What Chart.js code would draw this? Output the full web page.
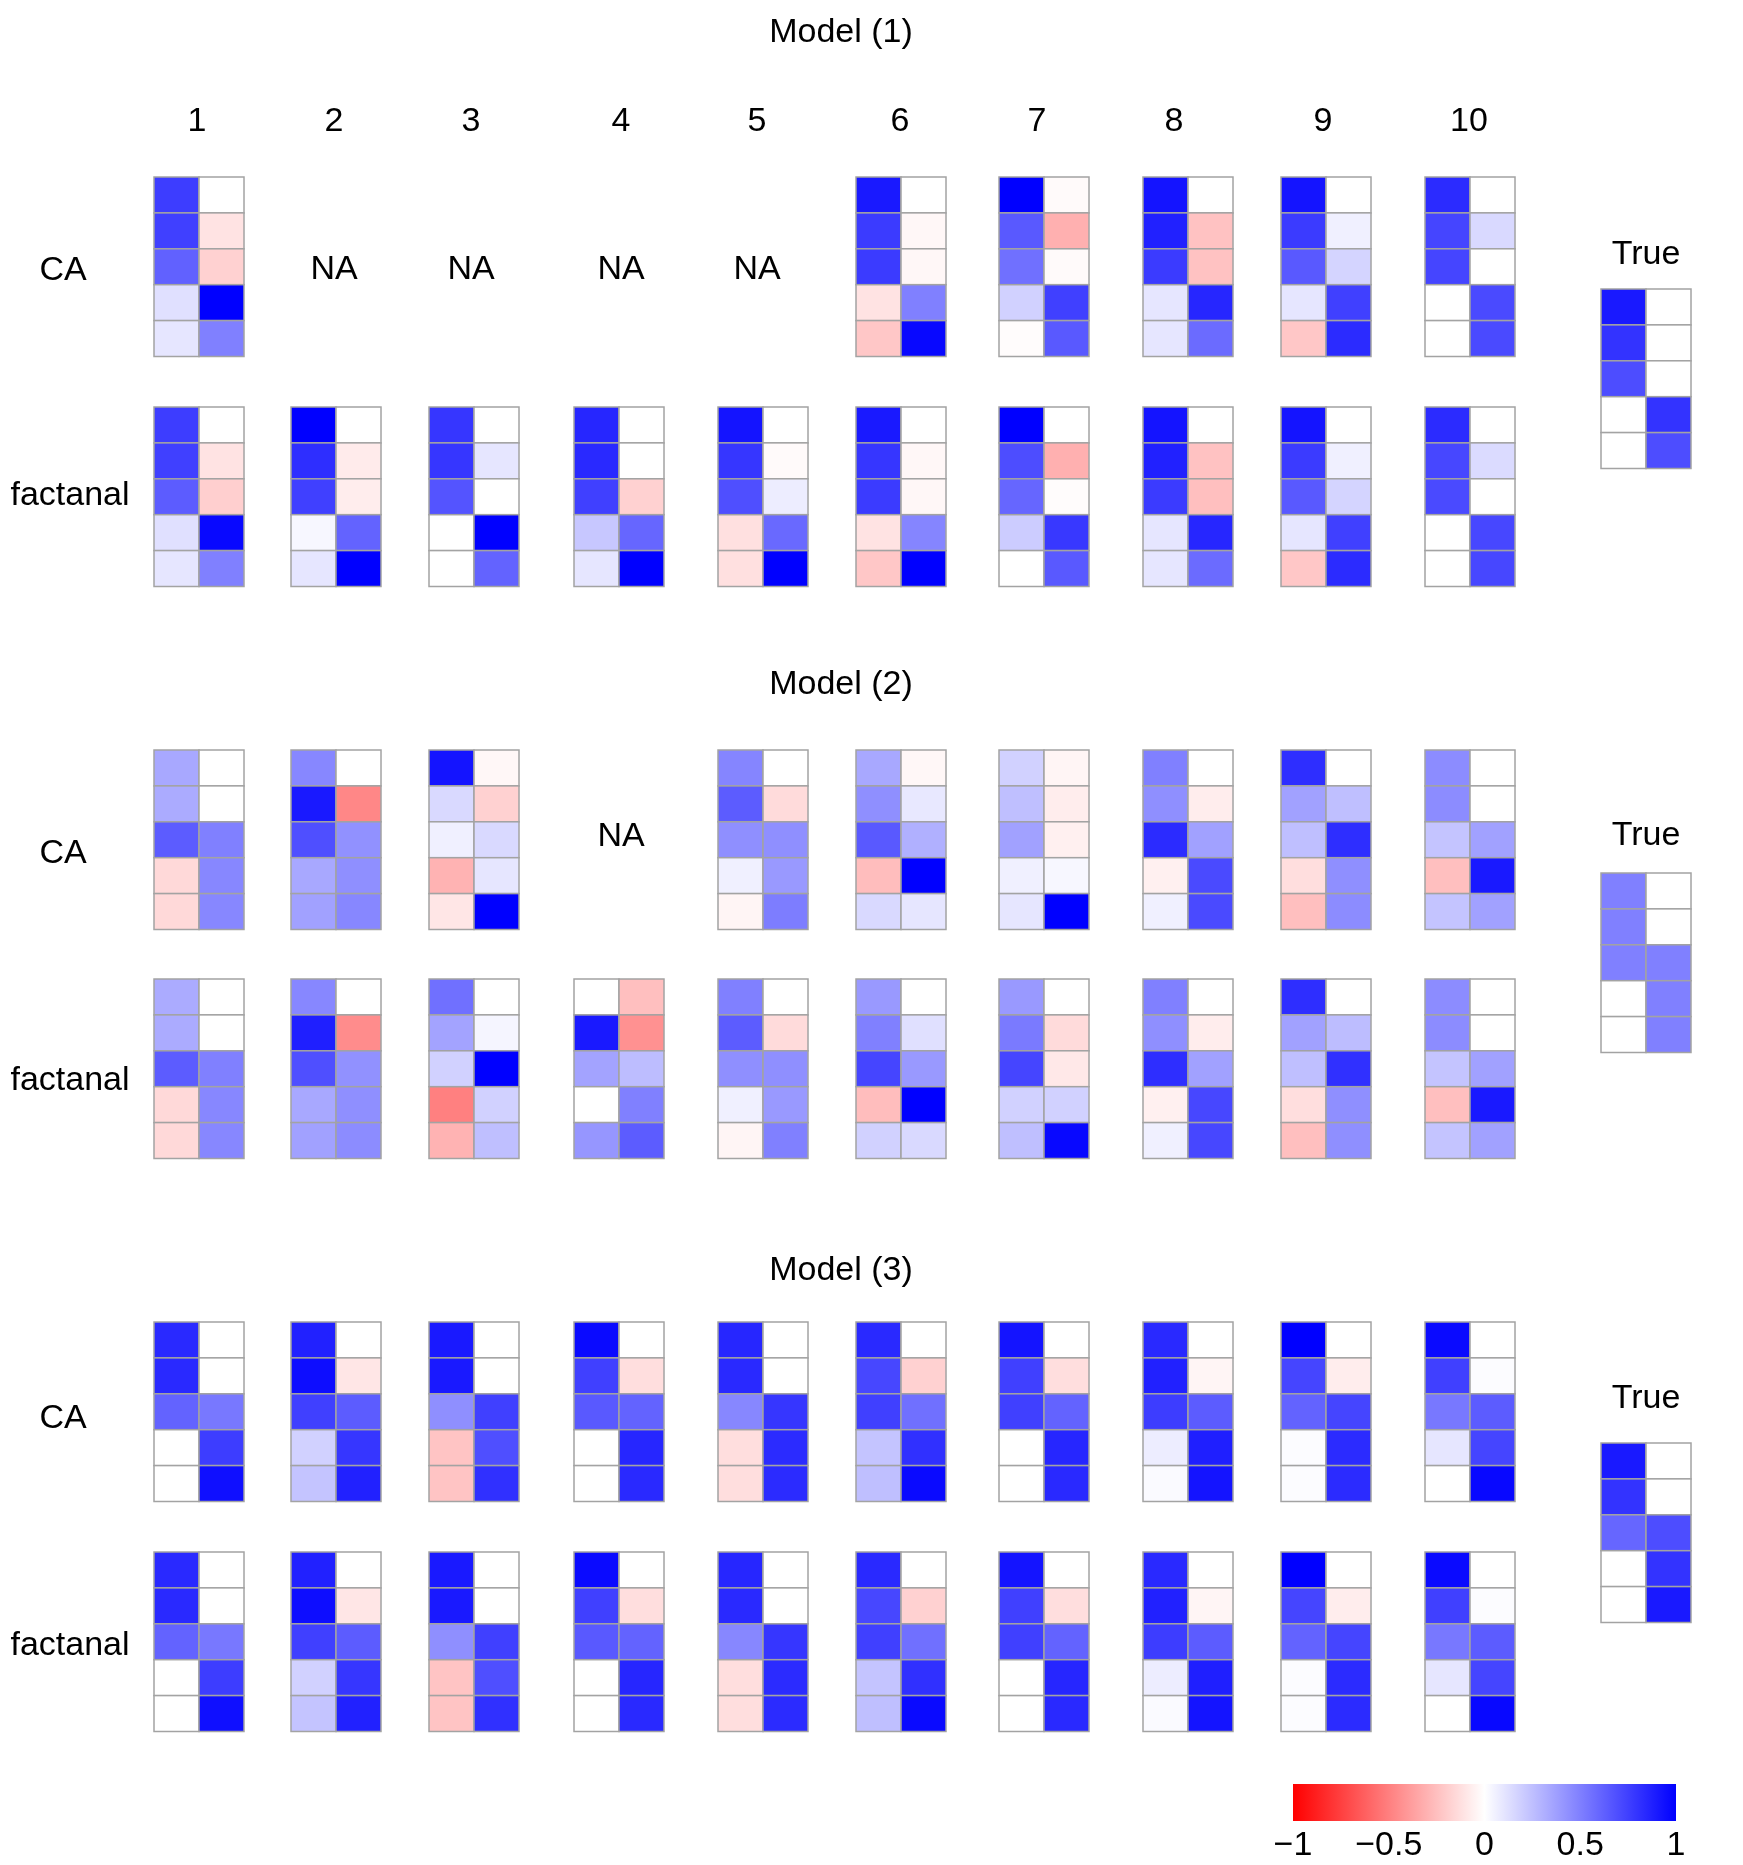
<!DOCTYPE html>
<html>
<head>
<meta charset="utf-8">
<script src="https://cdn.jsdelivr.net/npm/chart.js@4.4.1/dist/chart.umd.min.js"></script>
<style>
  html, body { margin: 0; padding: 0; background: #fff; }
  #wrap { width: 1743px; height: 1865px; }
</style>
</head>
<body>
<div id="wrap"><canvas id="chart" width="1743" height="1865"></canvas></div>
<script>
const models = ["Model (1)", "Model (2)", "Model (3)"]
const methods = ["CA", "factanal"]
const replicates = ["1", "2", "3", "4", "5", "6", "7", "8", "9", "10"]
const colorTicks = [-1, -0.5, 0, 0.5, 1]
const colorTickLabels = ["\u22121", "\u22120.5", "0", "0.5", "1"]

// loadings: 5 variables x 2 factors per replicate, null = NA
const m1CA = [
  [[0.76, 0], [0.75, -0.11], [0.62, -0.18], [0.12, 1.0], [0.1, 0.5]],
  null, null, null, null,
  [[0.9, 0], [0.77, -0.03], [0.77, -0.03], [-0.11, 0.5], [-0.22, 0.97]],
  [[1.0, -0.02], [0.65, -0.31], [0.56, -0.02], [0.18, 0.75], [-0.01, 0.65]],
  [[0.92, 0], [0.87, -0.24], [0.77, -0.24], [0.1, 0.85], [0.1, 0.58]],
  [[0.92, 0], [0.77, 0.06], [0.65, 0.17], [0.1, 0.75], [-0.22, 0.83]],
  [[0.83, 0], [0.73, 0.15], [0.73, 0], [0, 0.71], [0, 0.71]]
]
const m1Fac = [
  [[0.76, 0], [0.75, -0.11], [0.64, -0.19], [0.12, 0.97], [0.1, 0.5]],
  [[1.0, 0], [0.82, -0.08], [0.75, -0.07], [0.03, 0.61], [0.1, 1.0]],
  [[0.79, 0], [0.79, 0.1], [0.67, 0], [0, 1.0], [0, 0.61]],
  [[0.85, 0], [0.84, 0], [0.75, -0.18], [0.22, 0.6], [0.1, 1.0]],
  [[0.92, 0], [0.79, -0.02], [0.69, 0.07], [-0.12, 0.59], [-0.12, 1.0]],
  [[0.9, 0], [0.79, -0.03], [0.77, -0.03], [-0.11, 0.48], [-0.22, 1.0]],
  [[1.0, 0], [0.7, -0.31], [0.6, -0.01], [0.2, 0.78], [0, 0.65]],
  [[0.92, 0], [0.87, -0.24], [0.77, -0.25], [0.1, 0.85], [0.1, 0.58]],
  [[0.92, 0], [0.77, 0.06], [0.65, 0.17], [0.1, 0.75], [-0.22, 0.83]],
  [[0.83, 0], [0.72, 0.14], [0.71, 0], [0, 0.72], [0, 0.72]]
]
const m2CA = [
  [[0.34, 0], [0.33, 0], [0.64, 0.5], [-0.15, 0.47], [-0.15, 0.47]],
  [[0.47, 0], [0.9, -0.47], [0.69, 0.43], [0.34, 0.44], [0.37, 0.47]],
  [[0.92, -0.03], [0.15, -0.18], [0.06, 0.15], [-0.3, 0.1], [-0.1, 1.0]],
  null,
  [[0.48, 0], [0.64, -0.14], [0.44, 0.44], [0.06, 0.4], [-0.04, 0.51]],
  [[0.34, -0.03], [0.44, 0.09], [0.65, 0.31], [-0.26, 1.0], [0.15, 0.1]],
  [[0.18, -0.04], [0.25, -0.07], [0.37, -0.06], [0.06, 0.03], [0.1, 1.0]],
  [[0.5, 0], [0.44, -0.07], [0.83, 0.37], [-0.06, 0.71], [0.06, 0.71]],
  [[0.82, 0], [0.37, 0.25], [0.25, 0.82], [-0.13, 0.44], [-0.25, 0.45]],
  [[0.45, 0], [0.45, 0], [0.23, 0.37], [-0.25, 0.9], [0.23, 0.37]]
]
const m2Fac = [
  [[0.33, 0], [0.33, 0], [0.64, 0.5], [-0.15, 0.47], [-0.15, 0.47]],
  [[0.47, 0], [0.88, -0.45], [0.69, 0.43], [0.34, 0.44], [0.37, 0.45]],
  [[0.56, 0], [0.36, 0.04], [0.18, 1.0], [-0.5, 0.18], [-0.3, 0.25]],
  [[0, -0.25], [0.9, -0.43], [0.36, 0.26], [0, 0.5], [0.41, 0.64]],
  [[0.5, 0], [0.64, -0.14], [0.44, 0.44], [0.06, 0.4], [-0.04, 0.5]],
  [[0.4, 0], [0.5, 0.12], [0.73, 0.4], [-0.26, 1.0], [0.18, 0.15]],
  [[0.4, 0], [0.52, -0.14], [0.73, -0.09], [0.18, 0.18], [0.25, 0.97]],
  [[0.5, 0], [0.44, -0.07], [0.82, 0.37], [-0.06, 0.72], [0.06, 0.72]],
  [[0.82, 0], [0.37, 0.26], [0.25, 0.81], [-0.13, 0.44], [-0.25, 0.44]],
  [[0.45, 0], [0.45, 0], [0.23, 0.37], [-0.25, 0.9], [0.23, 0.37]]
]
const m3CA = [
  [[0.84, 0], [0.84, 0], [0.61, 0.53], [0, 0.76], [0, 0.94]],
  [[0.87, 0], [0.95, -0.1], [0.75, 0.64], [0.18, 0.79], [0.23, 0.87]],
  [[0.9, 0], [0.9, 0], [0.44, 0.75], [-0.23, 0.69], [-0.23, 0.81]],
  [[0.96, 0], [0.75, -0.13], [0.65, 0.61], [0, 0.85], [0, 0.84]],
  [[0.85, 0], [0.84, 0], [0.47, 0.79], [-0.13, 0.83], [-0.13, 0.83]],
  [[0.84, 0], [0.72, -0.18], [0.75, 0.56], [0.23, 0.81], [0.25, 0.96]],
  [[0.92, 0], [0.75, -0.13], [0.75, 0.61], [0, 0.85], [0, 0.84]],
  [[0.84, 0], [0.87, -0.04], [0.76, 0.64], [0.07, 0.88], [0.02, 0.92]],
  [[1.0, 0], [0.73, -0.07], [0.61, 0.73], [0.01, 0.83], [0.01, 0.83]],
  [[0.96, 0], [0.75, 0.01], [0.53, 0.64], [0.1, 0.73], [0, 0.97]]
]
const m3Fac = [
  [[0.84, 0], [0.84, 0], [0.61, 0.53], [0, 0.76], [0, 0.94]],
  [[0.87, 0], [0.95, -0.1], [0.75, 0.64], [0.18, 0.79], [0.23, 0.87]],
  [[0.9, 0], [0.9, 0], [0.44, 0.75], [-0.23, 0.69], [-0.23, 0.81]],
  [[0.96, 0], [0.75, -0.13], [0.65, 0.61], [0, 0.85], [0, 0.84]],
  [[0.85, 0], [0.84, 0], [0.47, 0.79], [-0.13, 0.83], [-0.13, 0.83]],
  [[0.84, 0], [0.72, -0.18], [0.75, 0.56], [0.23, 0.81], [0.25, 0.96]],
  [[0.92, 0], [0.75, -0.13], [0.75, 0.61], [0, 0.85], [0, 0.84]],
  [[0.84, 0], [0.87, -0.04], [0.76, 0.64], [0.07, 0.88], [0.02, 0.92]],
  [[1.0, 0], [0.73, -0.07], [0.61, 0.73], [0.01, 0.83], [0.01, 0.83]],
  [[0.96, 0], [0.75, 0.01], [0.53, 0.64], [0.1, 0.73], [0, 0.97]]
]
const m1True = [[0.9, 0], [0.8, 0], [0.7, 0], [0, 0.8], [0, 0.7]]
const m2True = [[0.5, 0], [0.5, 0], [0.5, 0.5], [0, 0.5], [0, 0.5]]
const m3True = [[0.9, 0], [0.8, 0], [0.6, 0.7], [0, 0.8], [0, 0.9]]

// layout (page units)
const PAGE_W = 1743, PAGE_H = 1865
const CELL_W = 45, CELL_H = 35.9
const panelLeft = [154, 291, 429, 574, 718, 856, 999, 1143, 1281, 1425]
const repLabelX = [197, 334, 471, 621, 757, 900, 1037, 1174, 1323, 1469]
const blockTop = { CA: [177, 750, 1322], factanal: [407, 979, 1552] }
const rowLabelY = { CA: [267.5, 851, 1416], factanal: [492.5, 1078, 1643] }
const naY = [267, 834, 1412]
const titleY = [29.7, 682, 1268]
const trueLeft = 1601
const trueTop = [289, 873, 1443]
const trueLabelY = [251.7, 833, 1396]
const cb = { left: 1293, right: 1676, top: 1784, bottom: 1821, labelY: 1843 }
const TEXT_SHIFT = 3
const FONT = "34px 'Liberation Sans', Arial, Helvetica, sans-serif"

function fillFor(v) {
  if (v >= 0) {
    const c = Math.round(255 * (1 - v))
    return `rgb(${c},${c},255)`
  }
  const c = Math.round(255 * (1 + v))
  return `rgb(255,${c},${c})`
}

function cellsFor(mat, left, top) {
  const pts = []
  mat.forEach((row, r) => {
    row.forEach((v, c) => {
      pts.push({ x: left + (c + 0.5) * CELL_W, y: top + (r + 0.5) * CELL_H, v })
    })
  })
  return pts
}

const byModel = [
  { CA: m1CA, factanal: m1Fac, truth: m1True },
  { CA: m2CA, factanal: m2Fac, truth: m2True },
  { CA: m3CA, factanal: m3Fac, truth: m3True }
]

const datasets = []
const texts = []
byModel.forEach((m, mi) => {
  texts.push({ t: models[mi], x: 841, y: titleY[mi] })
  methods.forEach(meth => {
    const top = blockTop[meth][mi]
    texts.push({ t: meth, x: meth === "CA" ? 63 : 70, y: rowLabelY[meth][mi] })
    m[meth].forEach((mat, ri) => {
      if (mat === null) {
        texts.push({ t: "NA", x: repLabelX[ri], y: naY[mi] })
        return
      }
      datasets.push({ label: `${models[mi]} ${meth} ${replicates[ri]}`, data: cellsFor(mat, panelLeft[ri], top), pointRadius: 0 })
    })
  })
  texts.push({ t: "True", x: trueLeft + CELL_W, y: trueLabelY[mi] })
  datasets.push({ label: `${models[mi]} True`, data: cellsFor(m.truth, trueLeft, trueTop[mi]), pointRadius: 0 })
})
replicates.forEach((r, i) => texts.push({ t: r, x: repLabelX[i], y: 119 }))

const heatmapPlugin = {
  id: "heatmap",
  afterDatasetsDraw(chart) {
    const { ctx, scales: { x, y } } = chart
    ctx.save()
    chart.data.datasets.forEach(ds => {
      ds.data.forEach(p => {
        const x0 = x.getPixelForValue(p.x - CELL_W / 2)
        const x1 = x.getPixelForValue(p.x + CELL_W / 2)
        const y0 = y.getPixelForValue(p.y - CELL_H / 2)
        const y1 = y.getPixelForValue(p.y + CELL_H / 2)
        ctx.fillStyle = fillFor(p.v)
        ctx.fillRect(x0, y0, x1 - x0, y1 - y0)
        ctx.strokeStyle = "#a3a3a3"
        ctx.lineWidth = 1.5
        ctx.strokeRect(x0, y0, x1 - x0, y1 - y0)
      })
    })

    // colour key
    const cx0 = x.getPixelForValue(cb.left)
    const cx1 = x.getPixelForValue(cb.right)
    const cy0 = y.getPixelForValue(cb.top)
    const cy1 = y.getPixelForValue(cb.bottom)
    const grad = ctx.createLinearGradient(cx0, 0, cx1, 0)
    grad.addColorStop(0, fillFor(-1))
    grad.addColorStop(0.5, fillFor(0))
    grad.addColorStop(1, fillFor(1))
    ctx.fillStyle = grad
    ctx.fillRect(cx0, cy0, cx1 - cx0, cy1 - cy0)

    ctx.fillStyle = "#000"
    ctx.font = FONT
    ctx.textAlign = "center"
    ctx.textBaseline = "middle"
    colorTicks.forEach((v, i) => {
      const px = x.getPixelForValue(cb.left + (v + 1) / 2 * (cb.right - cb.left))
      ctx.fillText(colorTickLabels[i], px, y.getPixelForValue(cb.labelY + TEXT_SHIFT))
    })
    texts.forEach(tx => {
      ctx.fillText(tx.t, x.getPixelForValue(tx.x), y.getPixelForValue(tx.y + TEXT_SHIFT))
    })
    ctx.restore()
  }
}

new Chart(document.getElementById("chart").getContext("2d"), {
  type: "scatter",
  data: { datasets },
  options: {
    responsive: false,
    animation: false,
    devicePixelRatio: 1,
    events: [],
    layout: { padding: 0 },
    plugins: { legend: { display: false }, tooltip: { enabled: false } },
    scales: {
      x: { type: "linear", min: 0, max: PAGE_W, display: false },
      y: { type: "linear", min: 0, max: PAGE_H, reverse: true, display: false }
    }
  },
  plugins: [heatmapPlugin]
})
</script>
</body>
</html>
